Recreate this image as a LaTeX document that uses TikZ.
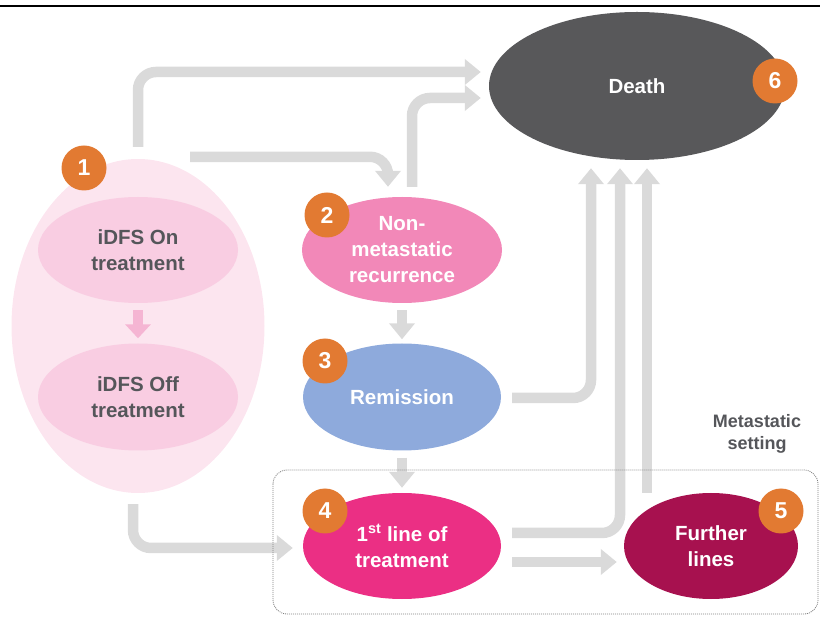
\documentclass[tikz,border=0pt]{standalone}
\usepackage{fontspec}
\setmainfont{Liberation Sans}
\usetikzlibrary{shapes.geometric,arrows.meta,calc}

\definecolor{deathgray}{HTML}{58585A}
\definecolor{badgeorange}{HTML}{E27A32}
\definecolor{grppink}{HTML}{FCE5EF}
\definecolor{idfspink}{HTML}{F9CDE2}
\definecolor{idfsarrow}{HTML}{F5B5D3}
\definecolor{nonmetpink}{HTML}{F288B8}
\definecolor{remblue}{HTML}{8EAADC}
\definecolor{firstmagenta}{HTML}{EB2F84}
\definecolor{furtherwine}{HTML}{A7114F}
\definecolor{arrowgray}{HTML}{DADADA}
\definecolor{labelgray}{HTML}{55565A}

\tikzset{
  state/.style={ellipse, inner sep=0pt, align=center, text=white,
    font=\fontsize{20.5}{26}\selectfont\bfseries},
  badge/.style={circle, fill=badgeorange, minimum size=45pt, inner sep=0pt,
    text=white, font=\fontsize{23}{23}\selectfont\bfseries},
  flow/.style={draw=arrowgray, line width=10.5pt, rounded corners=18pt,
    -{Triangle[width=25pt,length=16pt]}},
  pinkflow/.style={draw=idfsarrow, line width=10pt,
    -{Triangle[width=25pt,length=14pt]}},
  setting/.style={draw=gray, line width=0.8pt, dash pattern=on 1pt off 1pt,
    rounded corners=14pt}
}

\begin{document}
\begin{tikzpicture}[x=1pt,y=-1pt]
\useasboundingbox (0,0) rectangle (820,617);

% rule along the top edge
\draw[line width=2.5pt] (0,6) -- (820,6);

% adjuvant phase: iDFS on and off treatment
\node[ellipse, fill=grppink, minimum width=253pt, minimum height=334pt, inner sep=0pt] (grp) at (138,326) {};
\node[state, fill=idfspink, text=labelgray, minimum width=200pt, minimum height=106pt] (on) at (138,250) {iDFS On\\treatment};
\node[state, fill=idfspink, text=labelgray, minimum width=200pt, minimum height=107pt] (off) at (138,397) {iDFS Off\\treatment};
\draw[pinkflow] ($(on.south)+(0,7)$) -- ($(off.north)+(0,-5)$);

% states after recurrence
\node[state, fill=nonmetpink, minimum width=200pt, minimum height=106pt] (nonmet) at (402,250) {Non-\\metastatic\\recurrence};
\node[state, fill=remblue, minimum width=198pt, minimum height=107pt] (rem) at (402,397) {Remission};
\node[state, fill=firstmagenta, minimum width=198pt, minimum height=106pt] (first) at (402,546) {1\textsuperscript{st} line of\\treatment};
\node[state, fill=furtherwine, minimum width=174pt, minimum height=106pt] (further) at (711,546) {Further\\lines};
\node[state, fill=deathgray, minimum width=296pt, minimum height=148pt] (death) at (637,86) {Death};

% transitions
\draw[flow] ($(grp.north)+(0,-12)$) |- ($(death.west)+(-8,-14)$);
\draw[flow] ($(grp.north)+(52,-2)$) -| ($(nonmet.north)+(-14,-10)$);
\draw[flow] ($(nonmet.north)+(10,-10)$) |- ($(death.west)+(-8,12)$);
\draw[flow] ($(nonmet.south)+(0,7)$) -- ($(rem.north)+(0,-4)$);
\draw[flow] ($(rem.east)+(11,1)$) -| ($(death.south)+(-46,8)$);
\draw[flow] ($(rem.south)+(0,7)$) -- ($(first.north)+(0,-5)$);
\draw[flow] ($(first.east)+(11,-13)$) -| ($(death.south)+(-17,8)$);
\draw[flow] ($(further.north)+(-64,0)$) -- ($(death.south)+(10,8)$);
\draw[flow] ($(first.east)+(11,16)$) -- ($(further.west)+(-7,16)$);
\draw[flow] ($(grp.south)+(-5,11)$) |- ($(first.west)+(-10,2)$);

% metastatic setting frame
\draw[setting] (273,470) rectangle (818,614);
\node[align=center, text=labelgray, font=\fontsize{18}{22}\selectfont\bfseries] (metlabel) at (757,434) {Metastatic\\setting};

% state numbers
\node[badge] (b1) at (84,168) {1};
\node[badge] (b2) at (327,215) {2};
\node[badge] (b3) at (325,361) {3};
\node[badge] (b4) at (325,511) {4};
\node[badge] (b5) at (781,511) {5};
\node[badge] (b6) at (775,81) {6};
\end{tikzpicture}
\end{document}
